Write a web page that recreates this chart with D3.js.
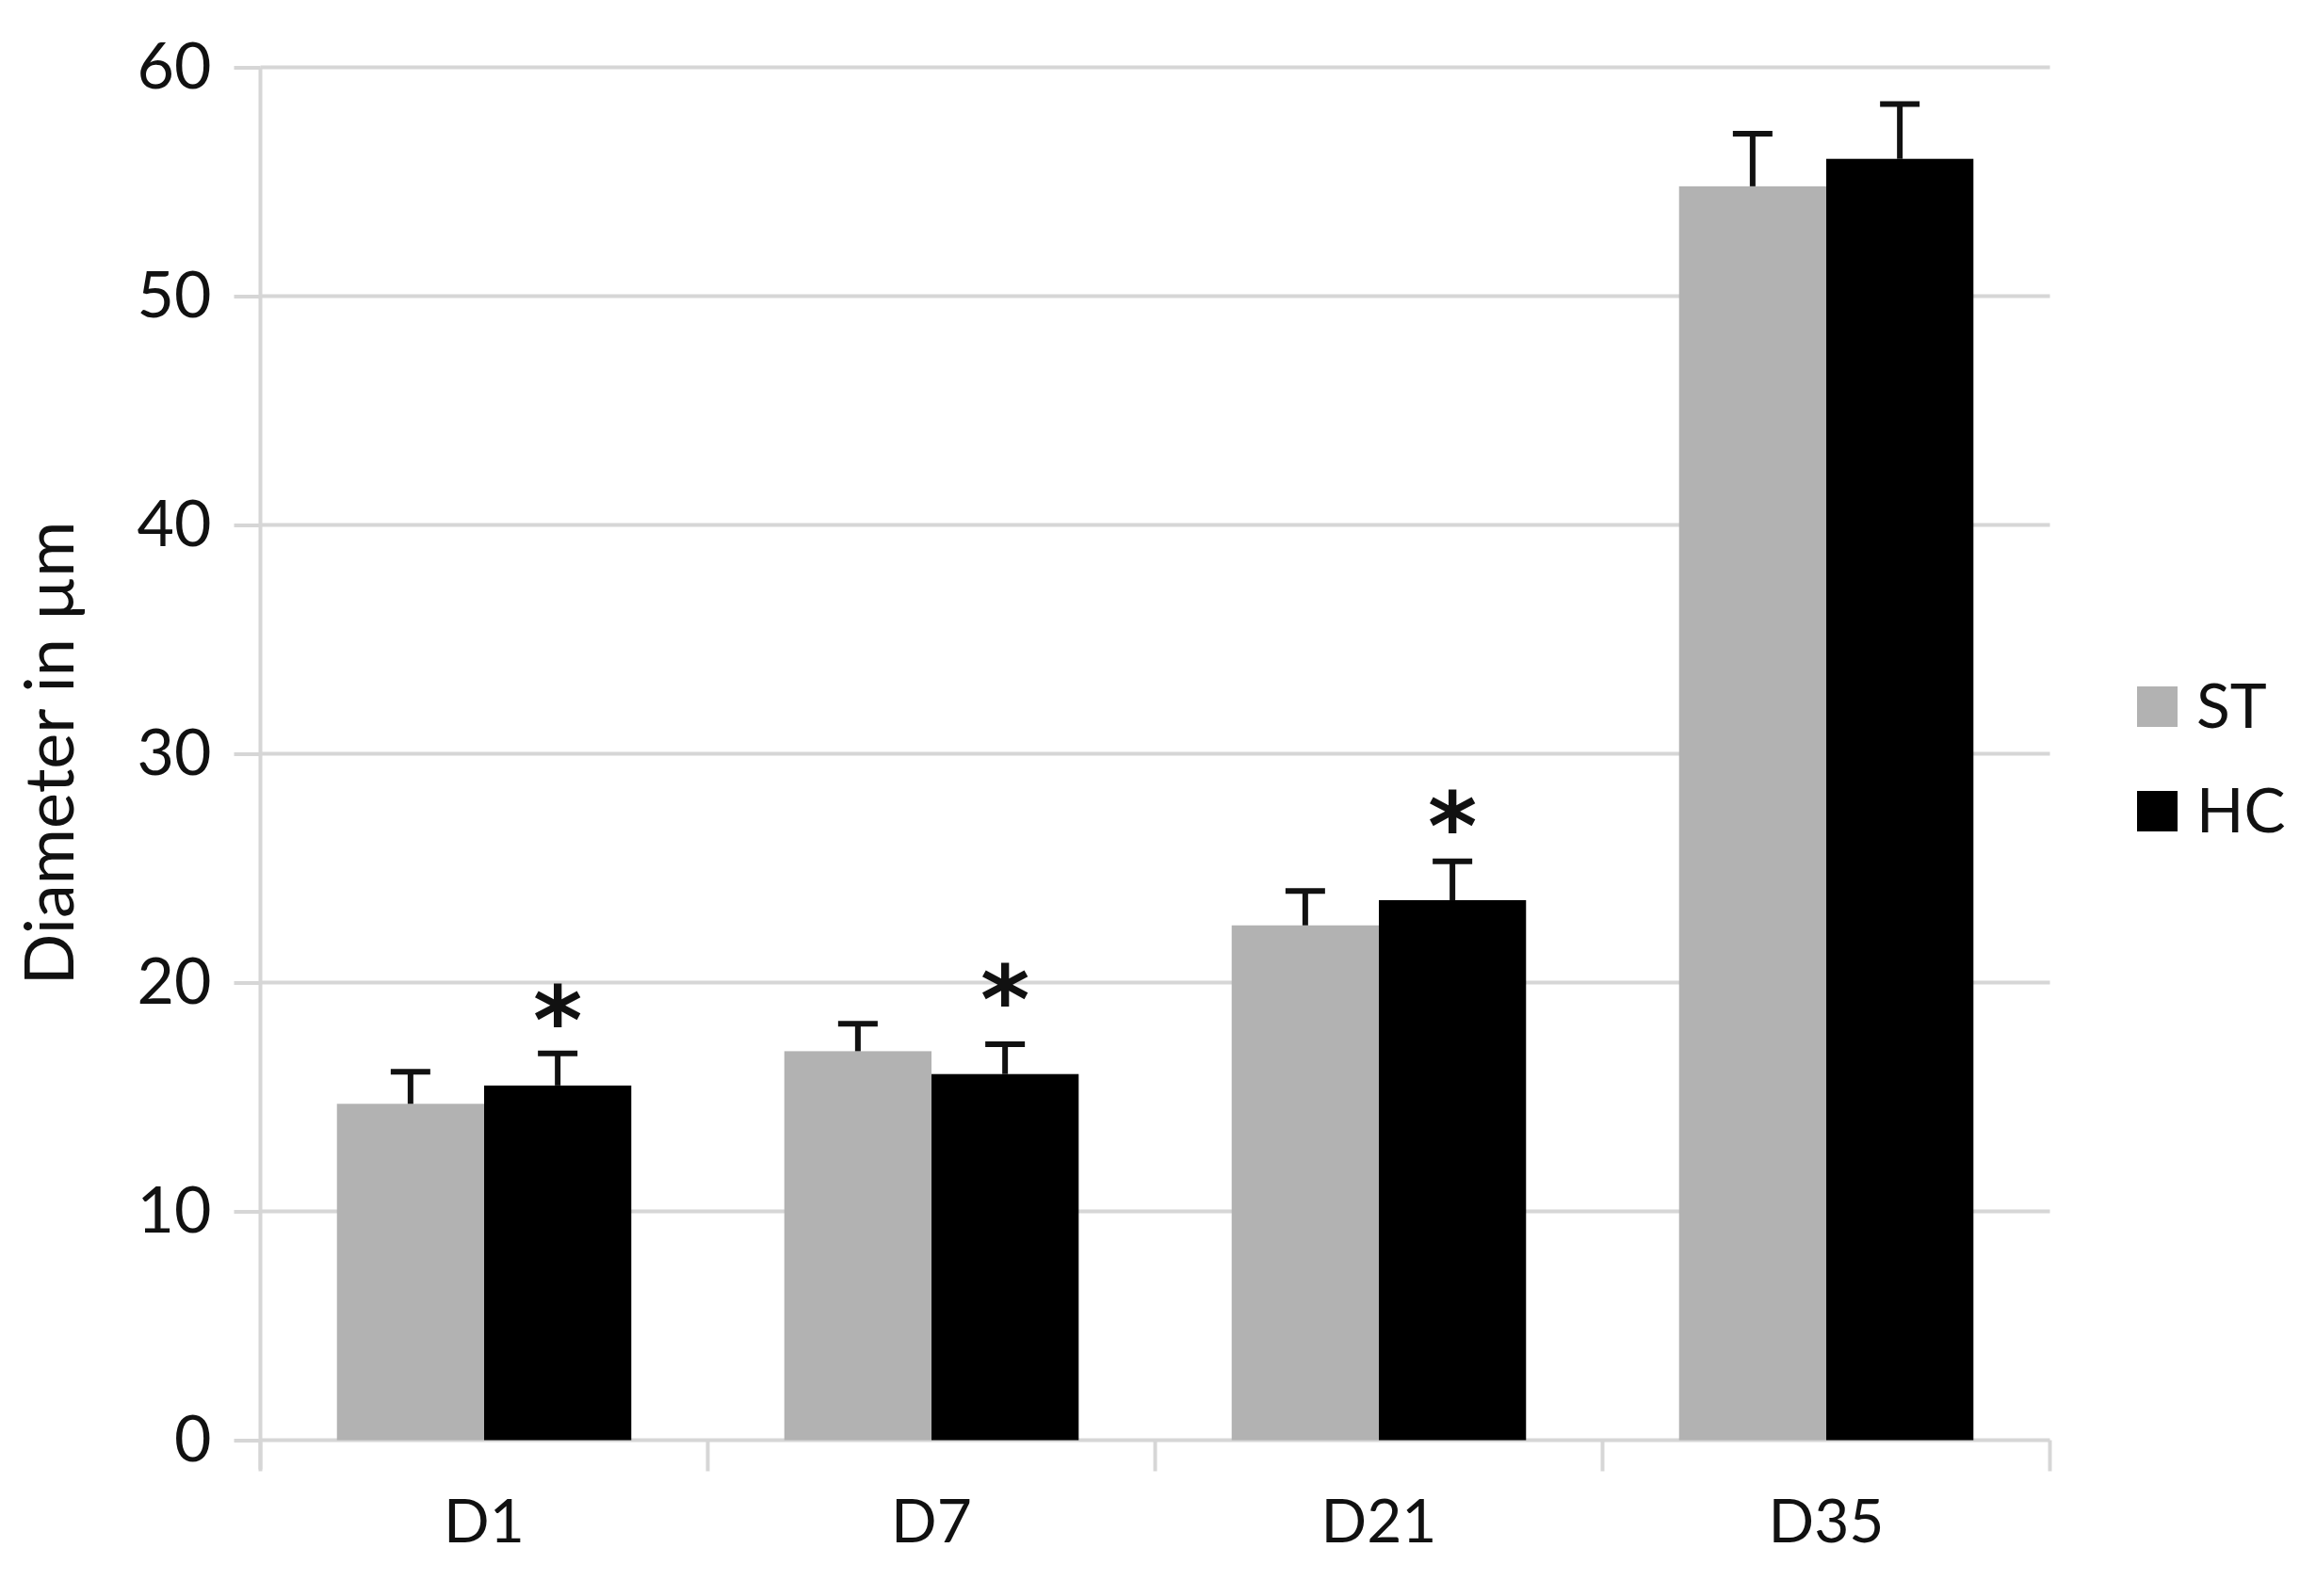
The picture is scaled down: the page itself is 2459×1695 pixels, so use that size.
<!DOCTYPE html>
<html>
<head>
<meta charset="utf-8">
<script src="https://cdn.jsdelivr.net/npm/d3@7"></script>
<style>
  body { margin: 0; background: #fff; }
  svg { display: block; font-family: Lato, "Open Sans", sans-serif; }
</style>
</head>
<body>
<div id="chart"></div>
<script>
// data
var categories = ["D1", "D7", "D21", "D35"];
var series = ["ST", "HC"];
var stValues = [14.7, 17.0, 22.5, 54.8];
var stErrors = [1.4, 1.2, 1.5, 2.3];
var hcValues = [15.5, 16.0, 23.6, 56.0];
var hcErrors = [1.4, 1.3, 1.7, 2.4];
var sigMarks = [18.7, 19.6, 27.2, null]; // y (µm) where the * sits over HC
var yTicks = [0, 10, 20, 30, 40, 50, 60];
var yLabel = "Diameter in µm";

function drawChart() {
    var svgWidth = 2459, svgHeight = 1695;
    var left = 276.5, right = 2176.5, top = 71.5, bottom = 1529.5;
    var font = "Lato, 'Open Sans', sans-serif";

    var svg = d3.select("#chart").append("svg")
        .attr("width", svgWidth)
        .attr("height", svgHeight);

    svg.append("rect")
        .attr("width", svgWidth).attr("height", svgHeight)
        .attr("fill", "#fff");

    var x0 = d3.scaleBand().domain(categories).range([left, right]);
    var bw = x0.bandwidth();
    var x1 = d3.scaleBand().domain(series).range([bw * 0.171, bw * 0.829]);
    var y = d3.scaleLinear().domain([0, 60]).range([bottom, top]);

    var color = d3.scaleOrdinal().domain(series).range(["#b2b2b2", "#000000"]);

    var rows = categories.map(function(c, i) {
        return {
            cat: c,
            bars: [
                {key: "ST", value: stValues[i], err: stErrors[i], cat: c},
                {key: "HC", value: hcValues[i], err: hcErrors[i], cat: c}
            ],
            sig: sigMarks[i]
        };
    });

    // gridlines
    svg.append("g").selectAll("line")
        .data(yTicks)
        .enter().append("line")
        .attr("x1", left).attr("x2", right)
        .attr("y1", function(d) { return y(d); })
        .attr("y2", function(d) { return y(d); })
        .attr("stroke", "#d6d6d6")
        .attr("stroke-width", 4);

    // y axis
    var yAxis = svg.append("g")
        .attr("transform", "translate(" + left + ",0)")
        .call(d3.axisLeft(y).tickValues(yTicks).tickSizeInner(28).tickSizeOuter(0).tickPadding(24));
    yAxis.attr("font-family", font).attr("font-size", 68);
    yAxis.select(".domain").remove();
    yAxis.selectAll(".tick line").attr("stroke", "#d6d6d6").attr("stroke-width", 4);
    yAxis.selectAll(".tick text").attr("fill", "#111");

    svg.append("line")
        .attr("x1", left).attr("x2", left)
        .attr("y1", y(60)).attr("y2", bottom + 31)
        .attr("stroke", "#d6d6d6").attr("stroke-width", 4);

    // x axis: labels at band centres, ticks at band edges
    var xAxis = svg.append("g")
        .attr("transform", "translate(0," + bottom + ")")
        .call(d3.axisBottom(x0).tickSize(0));
    xAxis.attr("font-family", font).attr("font-size", 64);
    xAxis.select(".domain").remove();
    xAxis.selectAll(".tick text")
        .attr("y", 108).attr("dy", 0)
        .attr("fill", "#111");

    var edges = categories.map(function(c) { return x0(c); }).concat([right]);
    svg.append("g").selectAll("line")
        .data(edges)
        .enter().append("line")
        .attr("x1", function(d) { return d; })
        .attr("x2", function(d) { return d; })
        .attr("y1", bottom).attr("y2", bottom + 33)
        .attr("stroke", "#d6d6d6").attr("stroke-width", 4);

    // bars
    var group = svg.selectAll(".cat")
        .data(rows)
        .enter().append("g")
        .attr("class", "cat")
        .attr("transform", function(d) { return "translate(" + x0(d.cat) + ",0)"; });

    group.selectAll("rect")
        .data(function(d) { return d.bars; })
        .enter().append("rect")
        .attr("x", function(d) { return x1(d.key); })
        .attr("width", x1.bandwidth())
        .attr("y", function(d) { return y(d.value); })
        .attr("height", function(d) { return y(0) - y(d.value); })
        .attr("fill", function(d) { return color(d.key); });

    // upper error bars
    var capW = 42;
    var err = group.selectAll(".err")
        .data(function(d) { return d.bars; })
        .enter().append("g")
        .attr("class", "err")
        .attr("stroke", "#111")
        .attr("stroke-width", 6);
    err.append("line")
        .attr("x1", function(d) { return x1(d.key) + x1.bandwidth() / 2; })
        .attr("x2", function(d) { return x1(d.key) + x1.bandwidth() / 2; })
        .attr("y1", function(d) { return y(d.value); })
        .attr("y2", function(d) { return y(d.value + d.err); });
    err.append("line")
        .attr("x1", function(d) { return x1(d.key) + x1.bandwidth() / 2 - capW / 2; })
        .attr("x2", function(d) { return x1(d.key) + x1.bandwidth() / 2 + capW / 2; })
        .attr("y1", function(d) { return y(d.value + d.err); })
        .attr("y2", function(d) { return y(d.value + d.err); });

    // significance stars
    group.filter(function(d) { return d.sig != null; })
        .append("text")
        .attr("x", x1("HC") + x1.bandwidth() / 2)
        .attr("y", function(d) { return y(d.sig) + 44; })
        .attr("text-anchor", "middle")
        .attr("fill", "#111")
        .style("font-size", "100px")
        .style("font-weight", "bold")
        .style("font-family", "'DejaVu Sans', sans-serif")
        .text("*");

    // y title
    svg.append("text")
        .attr("transform", "translate(78,800) rotate(-90)")
        .attr("text-anchor", "middle")
        .attr("fill", "#111")
        .style("font-size", "72px")
        .text(yLabel);

    // legend
    var legend = svg.selectAll(".legend")
        .data(series)
        .enter().append("g")
        .attr("class", "legend")
        .attr("transform", function(d, i) { return "translate(2269," + (750 + i * 111) + ")"; });
    legend.append("rect")
        .attr("x", 0).attr("y", -21)
        .attr("width", 43).attr("height", 43)
        .attr("fill", function(d) { return color(d); });
    legend.append("text")
        .attr("x", 63).attr("y", 0)
        .attr("dy", "0.35em")
        .attr("fill", "#111")
        .style("font-size", "66px")
        .text(function(d) { return d; });
}
drawChart();
</script>
</body>
</html>
